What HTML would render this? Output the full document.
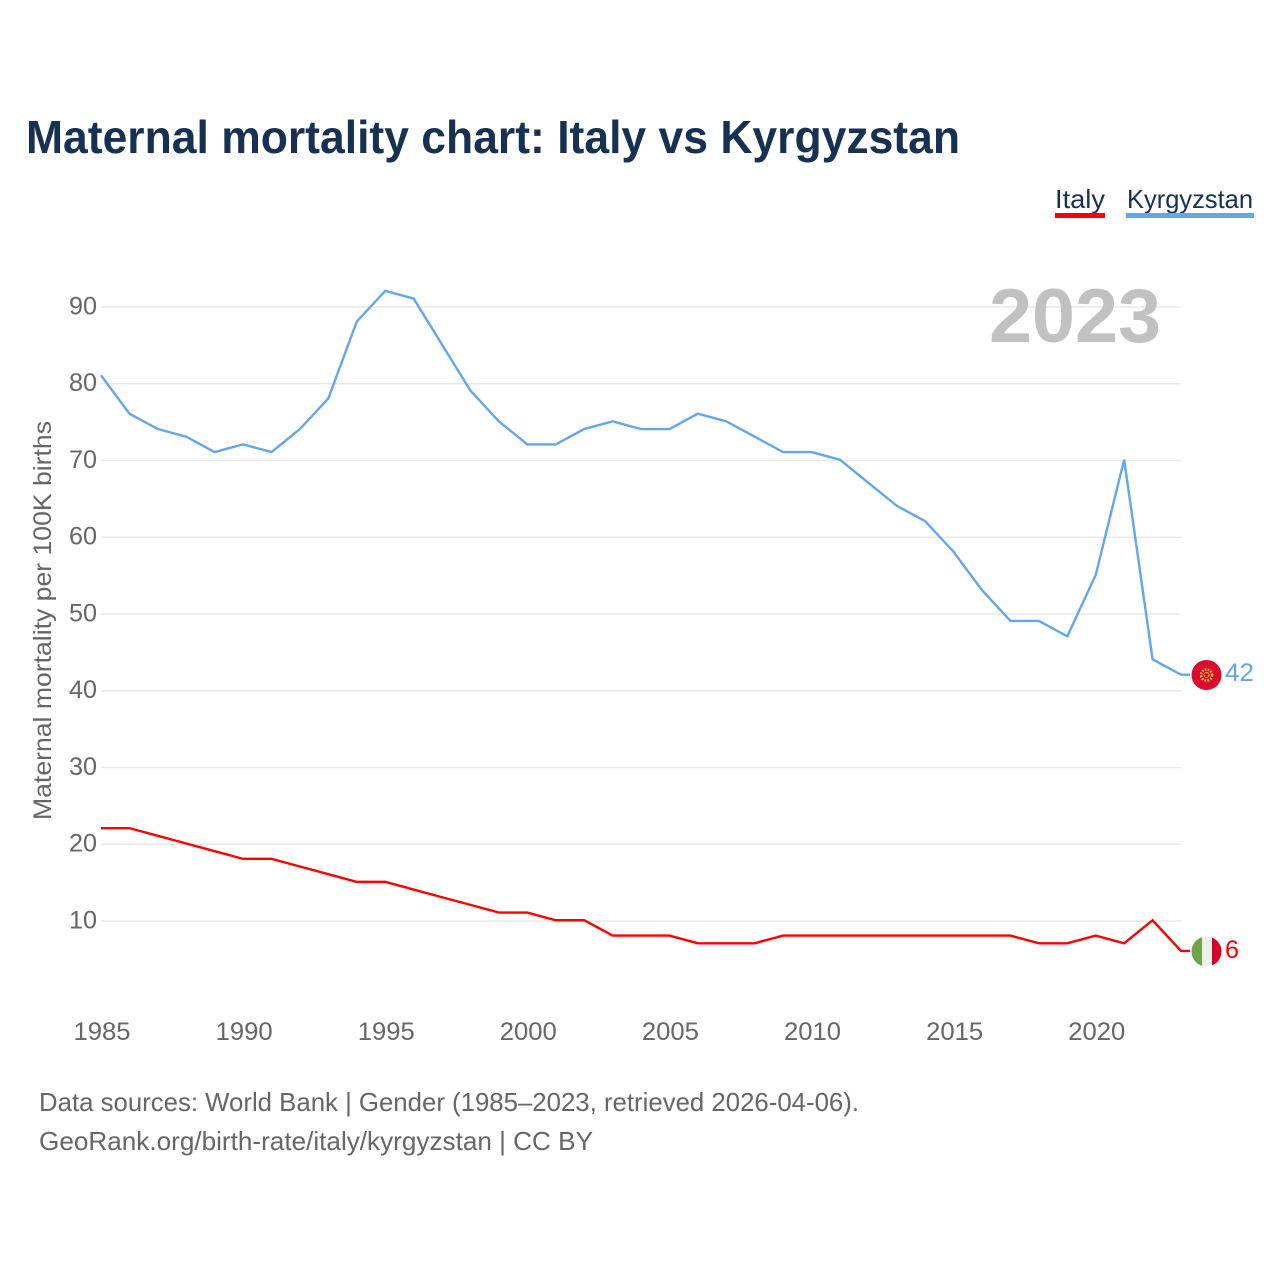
<!DOCTYPE html>
<html lang="en">
<head>
<meta charset="utf-8">
<title>Maternal mortality chart: Italy vs Kyrgyzstan</title>
<style>
html,body{margin:0;padding:0;background:#fff;width:1280px;height:1280px;overflow:hidden}
svg{display:block;font-family:"Liberation Sans",sans-serif}
</style>
</head>
<body>
<svg id="chart" xmlns="http://www.w3.org/2000/svg" width="1280" height="1280" viewBox="0 0 1280 1280">
  <rect x="0" y="0" width="1280" height="1280" fill="#fff"/>
  <text x="26" y="153" font-size="46" font-weight="700" fill="#173152" textLength="934" lengthAdjust="spacingAndGlyphs">Maternal mortality chart: Italy vs Kyrgyzstan</text>

  <g id="grid"></g>
  <g id="yticks"></g>
  <g id="xticks"></g>
  <text transform="translate(51,820) rotate(-90)" font-size="25" fill="#666" textLength="399" lengthAdjust="spacingAndGlyphs">Maternal mortality per 100K births</text>

  <text x="989" y="342" font-size="76" font-weight="700" fill="#c1c1c1" textLength="172" lengthAdjust="spacingAndGlyphs">2023</text>

  <g id="series"></g>

  <g>
    <text x="1055" y="208" font-size="26" fill="#173152" textLength="50" lengthAdjust="spacingAndGlyphs">Italy</text>
    <rect x="1055" y="213" width="50" height="5" fill="#ff0000"/>
  </g>
  <g>
    <text x="1127" y="208" font-size="26" fill="#173152" textLength="126" lengthAdjust="spacingAndGlyphs">Kyrgyzstan</text>
    <rect x="1126" y="213" width="128" height="5" fill="#62a6ec"/>
  </g>

  <g>
    <circle cx="1206.5" cy="675" r="15" fill="#dc0a2d"/>
    <circle cx="1206.5" cy="675" r="5.5" fill="none" stroke="#ffd83d" stroke-width="2.4" stroke-dasharray="1.6 1.4"/>
    <circle cx="1206.5" cy="675" r="2.5" fill="#dc0a2d" stroke="#ffd83d" stroke-width="0.8"/>
  </g>
  <text x="1225" y="681" font-size="25" fill="#62a6ec" textLength="29" lengthAdjust="spacingAndGlyphs">42</text>

  <g>
    <clipPath id="italy-clip"><circle cx="1206.5" cy="951.5" r="15"/></clipPath>
    <g clip-path="url(#italy-clip)">
      <rect x="1191" y="936" width="11" height="31" fill="#6da544"/>
      <rect x="1202" y="936" width="10" height="31" fill="#eeeeee"/>
      <rect x="1212" y="936" width="10" height="31" fill="#d80027"/>
    </g>
  </g>
  <text x="1225" y="958" font-size="25" fill="#ff0000" textLength="14" lengthAdjust="spacingAndGlyphs">6</text>

  <text x="39" y="1111" font-size="26" fill="#666" textLength="820" lengthAdjust="spacingAndGlyphs">Data sources: World Bank | Gender (1985–2023, retrieved 2026-04-06).</text>
  <text x="39" y="1150" font-size="26" fill="#666" textLength="554" lengthAdjust="spacingAndGlyphs">GeoRank.org/birth-rate/italy/kyrgyzstan | CC BY</text>
</svg>
<script>
const years = [1985,1986,1987,1988,1989,1990,1991,1992,1993,1994,1995,1996,1997,1998,1999,2000,2001,2002,2003,2004,2005,2006,2007,2008,2009,2010,2011,2012,2013,2014,2015,2016,2017,2018,2019,2020,2021,2022,2023];
const italyValues = [22,22,21,20,19,18,18,17,16,15,15,14,13,12,11,11,10,10,8,8,8,7,7,7,8,8,8,8,8,8,8,8,8,7,7,8,7,10,6];
const kyrgyzstanValues = [81,76,74,73,71,72,71,74,78,88,92,91,85,79,75,72,72,74,75,74,74,76,75,73,71,71,70,67,64,62,58,53,49,49,47,55,70,44,42];
const yTickValues = [10,20,30,40,50,60,70,80,90];
const xTickYears = [1985,1990,1995,2000,2005,2010,2015,2020];

const NS = 'http://www.w3.org/2000/svg';
const xScale = function (year) { return 101 + (year - 1985) * (1080 / 38); };
const yScale = function (value) { return 997.0 - value * 7.675; };
const X0 = 101, X1 = 1181, STUB_END = 1190;

const gridGroup = document.getElementById('grid');
const yTickGroup = document.getElementById('yticks');
const xTickGroup = document.getElementById('xticks');
const seriesGroup = document.getElementById('series');

yTickValues.forEach(function (v) {
  const line = document.createElementNS(NS, 'line');
  
  
  line.setAttribute('x1', X0);
  line.setAttribute('x2', X1);
  line.setAttribute('y1', yScale(v) + 0.75);
  line.setAttribute('y2', yScale(v) + 0.75);
  line.setAttribute('stroke', '#e9e9e9');
  line.setAttribute('stroke-width', '1.4');
  gridGroup.appendChild(line);

  const label = document.createElementNS(NS, 'text');
  
  
  label.setAttribute('x', 69);
  label.setAttribute('y', yScale(v) + 8);
  label.setAttribute('font-size', '25');
  label.setAttribute('fill', '#666');
  label.setAttribute('textLength', '28');
  label.setAttribute('lengthAdjust', 'spacingAndGlyphs');
  label.textContent = String(v);
  yTickGroup.appendChild(label);
});

xTickYears.forEach(function (y) {
  const label = document.createElementNS(NS, 'text');
  
  
  label.setAttribute('x', xScale(y) - 27.5);
  label.setAttribute('y', 1040);
  label.setAttribute('font-size', '25');
  label.setAttribute('fill', '#666');
  label.setAttribute('textLength', '57');
  label.setAttribute('lengthAdjust', 'spacingAndGlyphs');
  label.textContent = String(y);
  xTickGroup.appendChild(label);
});

function pointsFor(values) {
  const pts = values.map(function (v, i) {
    return xScale(years[i]).toFixed(2) + ',' + yScale(v).toFixed(2);
  });
  pts.push(STUB_END + ',' + yScale(values[values.length - 1]).toFixed(2));
  return pts.join(' ');
}

const kyrgyzstanLine = document.createElementNS(NS, 'polyline');


kyrgyzstanLine.setAttribute('points', pointsFor(kyrgyzstanValues));
kyrgyzstanLine.setAttribute('fill', 'none');
kyrgyzstanLine.setAttribute('stroke', '#62a6ec');
kyrgyzstanLine.setAttribute('stroke-width', '2.4');
seriesGroup.appendChild(kyrgyzstanLine);

const italyLine = document.createElementNS(NS, 'polyline');


italyLine.setAttribute('points', pointsFor(italyValues));
italyLine.setAttribute('fill', 'none');
italyLine.setAttribute('stroke', '#ff0000');
italyLine.setAttribute('stroke-width', '2.4');
seriesGroup.appendChild(italyLine);
</script>
</body>
</html>
